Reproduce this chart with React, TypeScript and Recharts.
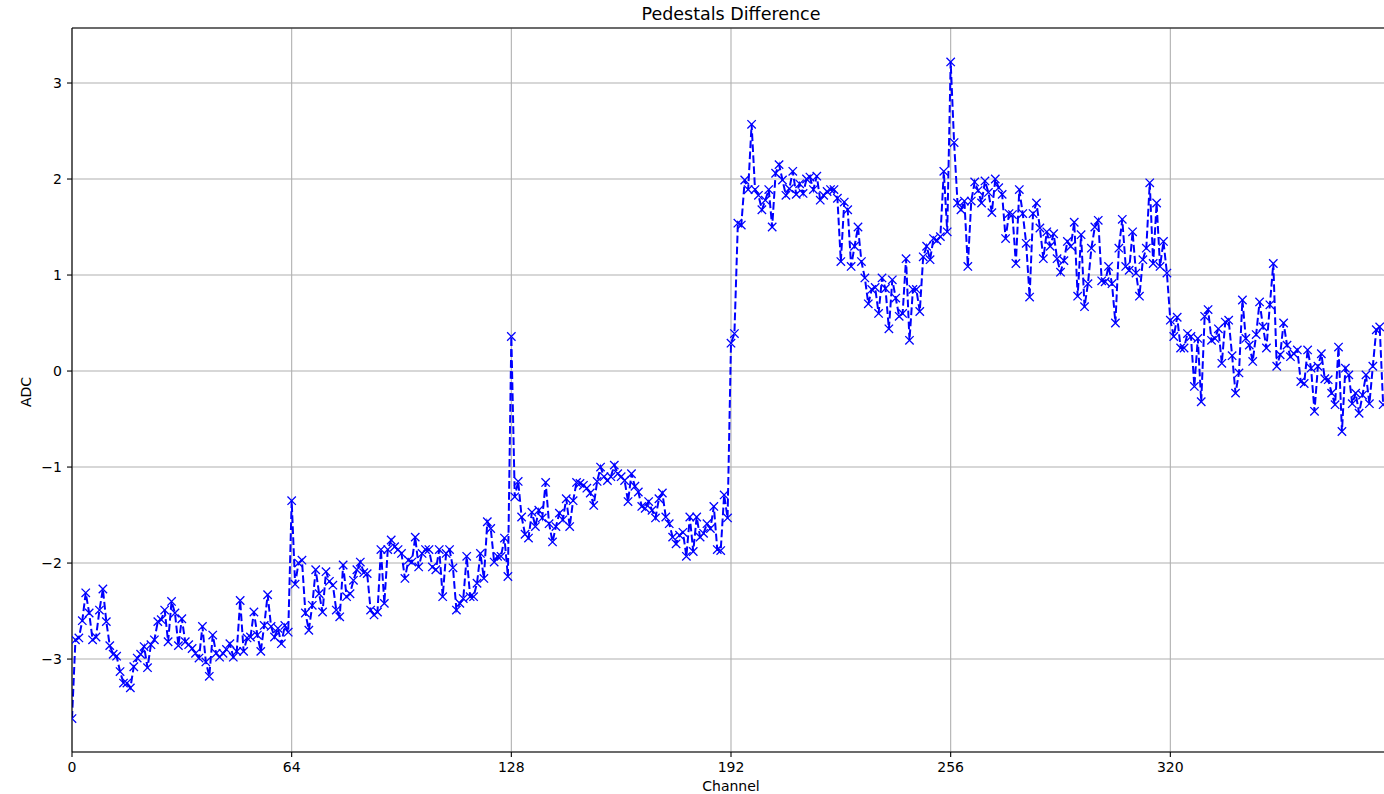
import React from 'react';
import { LineChart, Line, XAxis, YAxis, CartesianGrid, ReferenceLine } from 'recharts';

// ADC pedestal differences, channel 0 .. 382, split into segments
const adcCh000to032 = [-3.62, -2.80, -2.78, -2.60, -2.31, -2.52, -2.80, -2.77, -2.49, -2.27, -2.61, -2.86, -2.95, -2.97, -3.13, -3.25, -3.25, -3.30, -3.08, -2.99, -2.95, -2.87, -3.09, -2.85, -2.80, -2.61, -2.59, -2.49, -2.82, -2.40, -2.52, -2.86, -2.58];
const adcCh033to064 = [-2.82, -2.85, -2.89, -2.94, -2.99, -2.66, -3.03, -3.18, -2.75, -2.94, -2.98, -2.94, -2.90, -2.84, -2.98, -2.92, -2.39, -2.92, -2.78, -2.77, -2.51, -2.75, -2.92, -2.65, -2.33, -2.66, -2.77, -2.68, -2.84, -2.65, -2.72, -1.35];
const adcCh065to097 = [-2.22, -2.00, -1.97, -2.52, -2.70, -2.44, -2.07, -2.32, -2.51, -2.09, -2.19, -2.23, -2.49, -2.56, -2.02, -2.35, -2.32, -2.18, -2.07, -1.99, -2.10, -2.11, -2.49, -2.54, -2.51, -1.86, -2.42, -1.86, -1.76, -1.83, -1.86, -1.90, -2.16];
const adcCh098to128 = [-1.97, -1.99, -1.73, -2.04, -1.90, -1.86, -1.86, -2.04, -2.07, -1.86, -2.35, -1.90, -1.86, -2.05, -2.49, -2.42, -2.37, -1.93, -2.35, -2.35, -2.21, -1.90, -2.16, -1.57, -1.64, -1.99, -1.93, -1.93, -1.74, -2.14, 0.36];
const adcCh129to159 = [-1.31, -1.15, -1.52, -1.70, -1.74, -1.47, -1.62, -1.45, -1.53, -1.16, -1.59, -1.78, -1.62, -1.48, -1.55, -1.33, -1.62, -1.35, -1.16, -1.17, -1.19, -1.22, -1.27, -1.40, -1.15, -1.00, -1.10, -1.14, -1.10, -0.98, -1.07];
const adcCh160to191 = [-1.10, -1.14, -1.36, -1.07, -1.20, -1.26, -1.41, -1.43, -1.36, -1.45, -1.53, -1.33, -1.27, -1.52, -1.59, -1.73, -1.80, -1.71, -1.68, -1.93, -1.52, -1.88, -1.52, -1.73, -1.69, -1.59, -1.64, -1.41, -1.86, -1.87, -1.29, -1.53];
const adcCh192to225 = [0.29, 0.39, 1.54, 1.52, 1.99, 1.89, 2.57, 1.89, 1.83, 1.68, 1.78, 1.89, 1.50, 2.06, 2.15, 1.99, 1.83, 1.90, 2.08, 1.84, 1.95, 1.85, 2.00, 2.02, 1.89, 2.03, 1.78, 1.83, 1.87, 1.89, 1.89, 1.80, 1.14, 1.76];
const adcCh226to256 = [1.68, 1.09, 1.30, 1.50, 1.14, 0.97, 0.70, 0.85, 0.87, 0.60, 0.97, 0.86, 0.44, 0.95, 0.76, 0.57, 0.60, 1.17, 0.32, 0.85, 0.85, 0.62, 1.19, 1.30, 1.16, 1.38, 1.36, 1.40, 2.08, 1.45, 3.22];
const adcCh257to288 = [2.38, 1.75, 1.68, 1.77, 1.09, 1.77, 1.97, 1.88, 1.75, 1.98, 1.86, 1.65, 2.00, 1.91, 1.84, 1.38, 1.64, 1.63, 1.12, 1.89, 1.64, 1.33, 0.77, 1.64, 1.75, 1.49, 1.17, 1.45, 1.30, 1.43, 1.17, 1.03];
const adcCh289to320 = [1.15, 1.35, 1.30, 1.55, 0.78, 1.42, 0.67, 0.91, 1.28, 1.50, 1.57, 0.94, 0.93, 1.09, 0.91, 0.50, 1.28, 1.58, 1.09, 1.05, 1.45, 1.02, 0.78, 1.16, 1.28, 1.96, 1.12, 1.75, 1.09, 1.35, 1.02, 0.53];
const adcCh321to352 = [0.36, 0.56, 0.24, 0.24, 0.39, 0.36, -0.16, 0.34, -0.32, 0.57, 0.64, 0.32, 0.34, 0.44, 0.08, 0.51, 0.53, 0.16, -0.23, -0.02, 0.74, 0.34, 0.27, 0.10, 0.38, 0.72, 0.46, 0.24, 0.69, 1.12, 0.05, 0.17];
const adcCh353to382 = [0.50, 0.27, 0.15, 0.18, 0.22, -0.11, -0.13, 0.22, 0.03, -0.42, 0.05, 0.18, -0.08, -0.09, -0.23, -0.35, 0.25, -0.63, 0.03, -0.04, -0.34, -0.23, -0.44, -0.25, -0.04, -0.34, 0.05, 0.43, 0.46, -0.35];

const channelTicks = [0, 64, 128, 192, 256, 320];
const adcTicks = [-3, -2, -1, 0, 1, 2, 3];
const chartTitle = 'Pedestals Difference';
const xAxisLabel = 'Channel';
const yAxisLabel = 'ADC';

const adcValues = [
  ...adcCh000to032, ...adcCh033to064, ...adcCh065to097, ...adcCh098to128,
  ...adcCh129to159, ...adcCh160to191, ...adcCh192to225, ...adcCh226to256,
  ...adcCh257to288, ...adcCh289to320, ...adcCh321to352, ...adcCh353to382,
];
const data = adcValues.map((v, i) => ({ channel: i, adc: v }));

const FONT = "'DejaVu Sans', sans-serif";
const Y_MIN = -3.968;
const Y_MAX = 3.573;
const X_MAX = 384;
const BLUE = '#0000ff';

const fmt = (v: number) => (v < 0 ? '\u2212' + Math.abs(v) : String(v));

function XMarker(props: any) {
  const { cx, cy, index } = props;
  if (cx == null || cy == null) return <g key={`m${index}`} />;
  const r = 4.2;
  const d = `M${cx - r},${cy - r}L${cx + r},${cy + r}M${cx - r},${cy + r}L${cx + r},${cy - r}`;
  return <path key={`m${index}`} d={d} stroke={BLUE} strokeWidth={1.3} fill="none" />;
}

export default function App() {
  return (
    <div style={{ position: 'absolute', left: 0, top: 0, width: 1384, height: 794, overflow: 'hidden', background: '#fff' }}>
      <LineChart width={1400} height={794} data={data} margin={{ top: 28, right: 10, bottom: 0, left: 0 }}>
        <CartesianGrid stroke="#b0b0b0" strokeWidth={1.1} />
        <XAxis
          dataKey="channel"
          type="number"
          domain={[0, X_MAX]}
          ticks={channelTicks}
          interval={0}
          allowDataOverflow
          height={42}
          tickSize={5}
          tickMargin={5}
          axisLine={{ stroke: '#000', strokeWidth: 1.1 }}
          tickLine={{ stroke: '#000', strokeWidth: 1.1 }}
          tick={{ fill: '#000', fontSize: 14, fontFamily: FONT }}
        />
        <YAxis
          type="number"
          domain={[Y_MIN, Y_MAX]}
          ticks={adcTicks}
          interval={0}
          allowDataOverflow
          width={72}
          tickSize={5}
          tickMargin={5}
          tickFormatter={fmt}
          axisLine={{ stroke: '#000', strokeWidth: 1.1 }}
          tickLine={{ stroke: '#000', strokeWidth: 1.1 }}
          tick={{ fill: '#000', fontSize: 14, fontFamily: FONT }}
        />
        <ReferenceLine y={Y_MAX} stroke="#000" strokeWidth={1.1} />
        <Line
          type="linear"
          dataKey="adc"
          stroke={BLUE}
          strokeWidth={2}
          strokeDasharray="7.7 3.3"
          dot={XMarker}
          activeDot={false}
          isAnimationActive={false}
        />
      </LineChart>
      <svg style={{ position: 'absolute', left: 0, top: 0, pointerEvents: 'none' }} width={1384} height={794}>
        <text x={731} y={20} textAnchor="middle" fontSize={17.5} fontFamily={FONT} fill="#000">{chartTitle}</text>
        <text x={731} y={791} textAnchor="middle" fontSize={14} fontFamily={FONT} fill="#000">{xAxisLabel}</text>
        <text transform="translate(31,392) rotate(-90)" textAnchor="middle" fontSize={14} fontFamily={FONT} fill="#000">{yAxisLabel}</text>
      </svg>
    </div>
  );
}
